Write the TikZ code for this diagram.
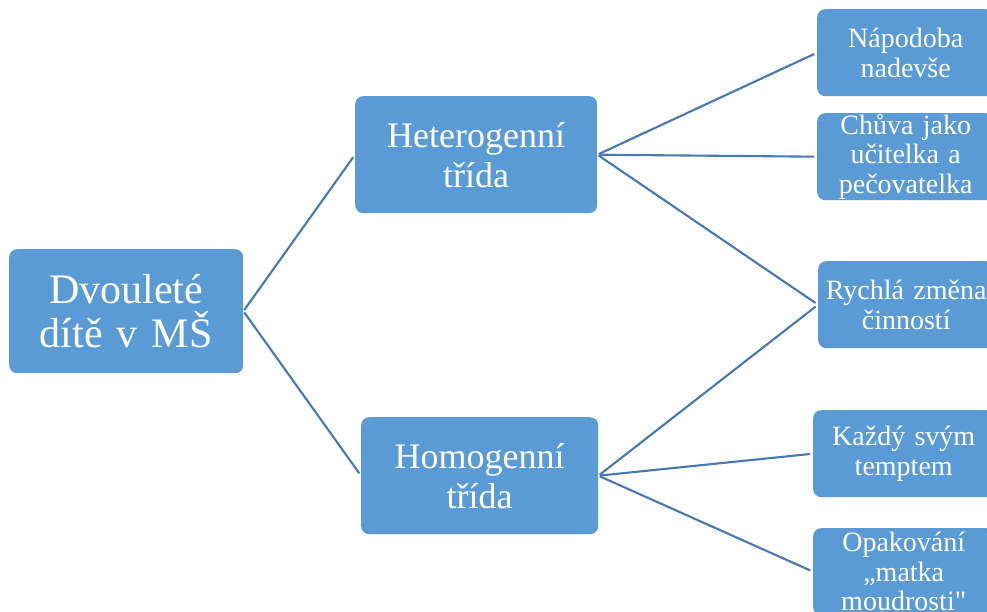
\documentclass[tikz,border=0pt]{standalone}
\usepackage{fontspec}
\setmainfont{Liberation Serif}
\newfontfamily\plainrm{Liberation Serif}
\definecolor{boxblue}{HTML}{5B9BD5}
\definecolor{linkblue}{HTML}{4679B5}
\begin{document}
\begin{tikzpicture}[x=1pt,y=-1pt,
  box/.style={rectangle, rounded corners=8pt, fill=boxblue, text=white,
    inner sep=0pt, anchor=north west, align=center},
  rootbox/.style={box, minimum width=234pt, minimum height=124pt, text width=234pt,
    font=\fontsize{42}{44}\selectfont},
  midbox/.style={box, minimum height=117pt, font=\fontsize{36}{40}\selectfont},
  leafbox/.style={box, minimum height=87pt, font=\fontsize{28}{29.5}\selectfont},
  link/.style={draw=linkblue, line width=2.1pt, shorten <=1.5pt, shorten >=3pt}]
\useasboundingbox (0,0) rectangle (987,612);
\clip (0,0) rectangle (987,612);
\fill[white] (0,0) rectangle (987,612);
% nodes
\node[rootbox] (root) at (9,249) {Dvouleté\\dítě v MŠ};
\node[midbox, minimum width=242pt, text width=242pt] (het) at (355,96) {Heterogenní\\třída};
\node[midbox, minimum width=237pt, text width=237pt] (hom) at (361,417) {Homogenní\\třída};
\node[leafbox, minimum width=177pt, text width=177pt] (nap) at (817,9) {Nápodoba\\nadevše};
\node[leafbox, minimum width=177pt, text width=177pt] (chu) at (817,113) {Chůva jako\\učitelka a\\pečovatelka};
\node[leafbox, minimum width=176pt, text width=176pt] (ryc) at (818,261) {Rychlá změna\\činností};
\node[leafbox, minimum width=181pt, text width=181pt] (kaz) at (813,410) {Každý svým\\temptem};
\node[leafbox, minimum width=181pt, text width=181pt] (opa) at (813,528) {Opakování\\„matka\\moudrosti{\plainrm"}};
% connectors
\draw[link] (root.east) -- (het.west);
\draw[link] (root.east) -- (hom.west);
\draw[link] (het.east) -- (nap.west);
\draw[link] (het.east) -- (chu.west);
\draw[link] (het.east) -- (ryc.west);
\draw[link] (hom.east) -- (ryc.west);
\draw[link] (hom.east) -- (kaz.west);
\draw[link] (hom.east) -- (opa.west);
\end{tikzpicture}
\end{document}
